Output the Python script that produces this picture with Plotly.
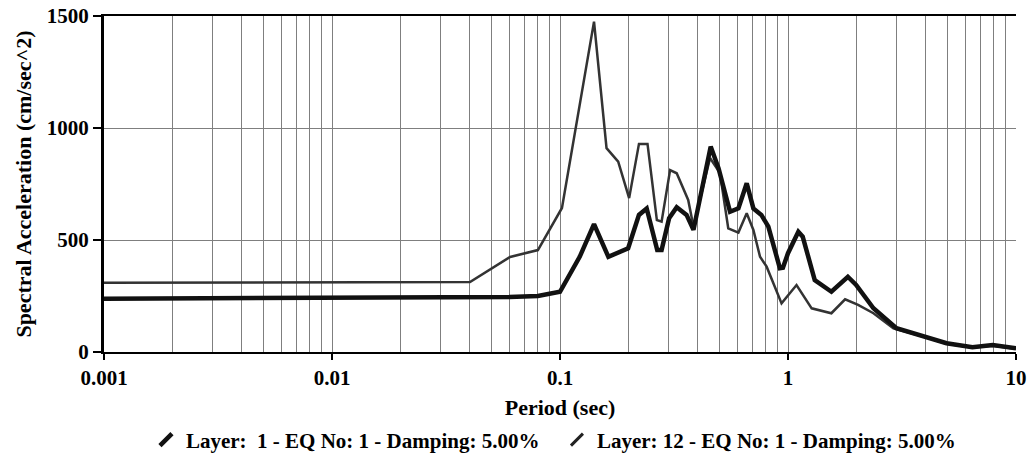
import plotly.graph_objects as go

# Layer 1 (thick line)
period_l1 = [0.001, 0.04, 0.06, 0.08, 0.1, 0.122, 0.141, 0.163, 0.199, 0.222, 0.240, 0.267, 0.279,
             0.301, 0.325, 0.359, 0.385, 0.458, 0.496, 0.557, 0.606, 0.659, 0.705, 0.764, 0.82,
             0.921, 0.95, 1.0, 1.11, 1.16, 1.31, 1.55, 1.83, 1.99, 2.37, 2.99, 4.06, 4.96, 6.44, 7.9, 10]
sa_l1 = [238, 241, 246, 250, 269, 425, 571, 425, 463, 612, 641, 455, 455,
         597, 646, 612, 545, 917, 820, 626, 641, 753, 641, 612, 560,
         374, 376, 441, 537, 515, 321, 269, 336, 299, 195, 106, 68, 39, 21, 31, 17]

# Layer 12 (thin line)
period_l12 = [0.001, 0.0403, 0.0604, 0.080, 0.102, 0.141, 0.160, 0.180, 0.201, 0.222, 0.242, 0.266,
              0.279, 0.304, 0.325, 0.365, 0.385, 0.455, 0.503, 0.547, 0.606, 0.659, 0.705, 0.754,
              0.806, 0.937, 1.09, 1.27, 1.55, 1.78, 2.03, 2.37, 2.90, 4.06, 4.96, 6.44, 7.9, 10]
sa_l12 = [309, 312, 424, 455, 643, 1475, 910, 850, 687, 929, 929, 589,
          582, 812, 798, 679, 559, 866, 799, 552, 533, 619, 545, 425,
          381, 217, 299, 195, 173, 235, 210, 173, 106, 65, 37, 20, 28, 15]

names = ["Layer:  1 - EQ No: 1 - Damping: 5.00%", "Layer: 12 - EQ No: 1 - Damping: 5.00%"]

x_tickvals = [0.001, 0.01, 0.1, 1, 10]
x_ticktext = ["0.001", "0.01", "0.1", "1", "10"]
minor_vals = [m * d for d in [0.001, 0.01, 0.1, 1] for m in range(2, 10)]

FONT = "Liberation Serif"

fig = go.Figure()
fig.add_trace(go.Scatter(x=period_l12, y=sa_l12, mode="lines", showlegend=False,
                         line=dict(color="#333333", width=2.5)))
fig.add_trace(go.Scatter(x=period_l1, y=sa_l1, mode="lines", showlegend=False,
                         line=dict(color="#111111", width=4.5)))
# legend entries
fig.add_trace(go.Scatter(x=[None], y=[None], mode="markers", name=names[0],
                         marker=dict(symbol="line-ne-open", size=12, color="#111111",
                                     line=dict(width=4.5, color="#111111"))))
fig.add_trace(go.Scatter(x=[None], y=[None], mode="markers", name=names[1],
                         marker=dict(symbol="line-ne-open", size=12, color="#222222",
                                     line=dict(width=3, color="#222222"))))

fig.update_layout(
    width=1034, height=458,
    margin=dict(l=104, r=18, t=16, b=106, autoexpand=False),
    paper_bgcolor="white", plot_bgcolor="white",
    font=dict(family=FONT, size=21, color="black"),
    showlegend=True,
    legend=dict(orientation="h", x=0.046, xanchor="left", y=-0.262, yanchor="middle",
                font=dict(family=FONT, size=21, color="black", weight="bold"),
                itemwidth=30, entrywidth=366, traceorder="normal"),
    xaxis=dict(
        type="log", range=[-3, 1], automargin=False,
        tickvals=x_tickvals, ticktext=x_ticktext,
        tickfont=dict(family=FONT, size=21, weight="bold"),
        showgrid=True, gridcolor="#7f7f7f", gridwidth=1.2,
        minor=dict(tickvals=minor_vals, showgrid=True, gridcolor="#7f7f7f", gridwidth=1.2, ticks=""),
        showline=True, linecolor="black", linewidth=2, mirror=True,
        ticks="outside", ticklen=6, tickcolor="black", tickwidth=1.5,
        zeroline=False,
        title=dict(text="Period (sec)", font=dict(family=FONT, size=22, weight="bold"), standoff=10),
    ),
    yaxis=dict(
        range=[0, 1500], tickvals=[0, 500, 1000, 1500], automargin=False,
        tickfont=dict(family=FONT, size=21, weight="bold"),
        showgrid=True, gridcolor="#7f7f7f", gridwidth=1.2,
        showline=True, linecolor="black", linewidth=3,
        ticks="outside", ticklen=8, tickcolor="black", tickwidth=1.5,
        zeroline=False,
        title=dict(text="Spectral Acceleration (cm/sec^2)", font=dict(family=FONT, size=22, weight="bold"), standoff=10),
    ),
)

fig.write_html("out.html")
